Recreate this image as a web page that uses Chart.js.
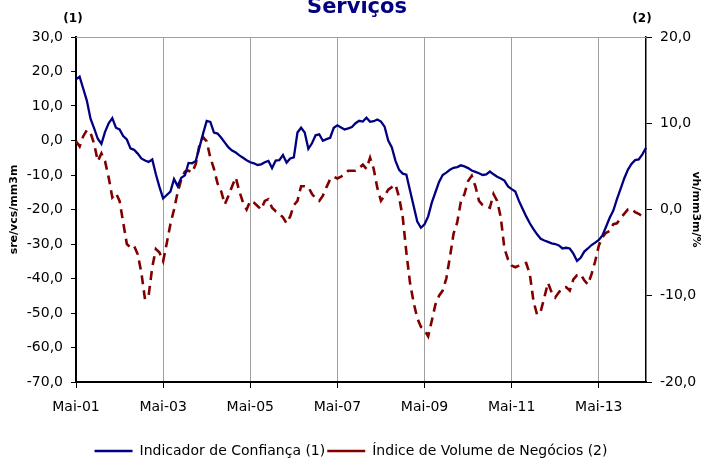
<!DOCTYPE html>
<html>
<head>
<meta charset="utf-8">
<script src="https://cdn.jsdelivr.net/npm/chart.js@4/dist/chart.umd.min.js"></script>
<style>
  html, body { margin: 0; padding: 0; background: #fff; }
  #wrap { width: 702px; height: 459px; }
</style>
</head>
<body>
<div id="wrap"><canvas id="myChart" width="702" height="459"></canvas></div>
<script>
// month names used for the category labels (series starts Mai-01)
const monthNames = ["Jan", "Fev", "Mar", "Abr", "Mai", "Jun", "Jul", "Ago", "Set", "Out", "Nov", "Dez"];
const startYear = 2001;
const startMonth = 4; // Mai

// Indicador de Confiança (1) - left axis
const confianca = [
  17.7, 18.5, 15.0, 11.5, 6.3, 3.5, 0.5, -1.0, 2.5, 5.0, 6.5, 3.7,
  3.2, 1.3, 0.3, -2.3, -2.7, -3.8, -5.2, -5.8, -6.2, -5.5, -9.8, -13.5,
  -16.8, -15.8, -14.8, -11.2, -13.2, -10.8, -10.1, -6.5, -6.6, -5.9, -2.0, 2.0,
  5.7, 5.4, 2.3, 2.0, 0.8, -0.6, -2.0, -2.9, -3.5, -4.3, -5.0, -5.7,
  -6.3, -6.6, -7.1, -6.9, -6.3, -5.9, -8.0, -5.8, -5.7, -4.2, -6.4, -5.2,
  -4.9, 2.3, 3.7, 2.3, -2.4, -0.8, 1.5, 1.8, -0.1, 0.4, 0.8, 3.7,
  4.4, 3.8, 3.2, 3.5, 3.9, 5.0, 5.7, 5.5, 6.6, 5.4, 5.6, 6.1,
  5.5, 4.0, 0.0, -2.0, -5.9, -8.5, -9.6, -9.9, -14.5, -19.0, -23.5, -25.3,
  -24.3, -22.0, -18.0, -15.0, -12.0, -10.0, -9.3, -8.5, -7.9, -7.7, -7.2, -7.5,
  -8.0, -8.7, -9.1, -9.5, -10.0, -9.8, -9.0, -9.8, -10.5, -11.0, -11.6, -13.3,
  -14.1, -14.8, -17.5, -19.8, -22.0, -24.0, -25.7, -27.2, -28.5, -29.0, -29.4, -29.8,
  -30.0, -30.4, -31.3, -31.1, -31.3, -32.8, -34.9, -34.0, -32.2, -31.3, -30.3, -29.6,
  -28.8, -27.5, -25.0, -22.4, -20.3, -17.0, -14.0, -11.0, -8.5, -6.8, -5.7, -5.5,
  -4.0, -2.1
];

// Índice de Volume de Negócios (2) - right axis
const volume = [
  7.9, 7.3, 8.5, 9.2, 8.9, 7.6, 5.6, 6.5, 5.6, 3.7, 1.4, 1.9,
  1.0, -1.5, -4.0, -4.4, -4.2, -5.2, -7.3, -10.4, -10.0, -6.7, -4.6, -5.0,
  -6.0, -3.9, -1.7, 0.0, 2.0, 3.5, 4.4, 4.5, 4.3, 5.3, 7.5, 8.4,
  7.9, 6.0, 4.7, 3.0, 2.1, 0.6, 1.6, 2.7, 3.7, 2.1, 0.8, 0.0,
  1.0, 0.8, 0.4, 0.0, 1.0, 1.2, 0.2, -0.2, -0.5, -0.9, -1.6, -0.8,
  0.5, 1.0, 2.7, 2.7, 2.6, 1.8, 1.3, 1.0, 1.6, 2.6, 3.5, 3.8,
  3.6, 3.8, 4.1, 4.5, 4.5, 4.5, 4.8, 5.2, 4.7, 6.0, 4.7, 2.5,
  1.0, 1.6, 2.3, 2.6, 2.9, 1.4, -0.9, -5.0, -8.5, -10.8, -12.6, -13.6,
  -14.0, -14.7, -12.9, -11.0, -10.0, -9.4, -8.0, -5.5, -2.8, -1.5, 0.9, 1.8,
  3.3, 3.9, 2.7, 1.0, 0.5, 0.4, 0.2, 1.8, 1.0, -0.9, -4.5, -5.8,
  -6.5, -6.7, -6.5, -6.3, -6.2, -7.5, -10.6, -12.2, -11.8, -10.2, -8.5, -9.6,
  -10.2, -9.6, -9.1, -9.0, -9.4, -8.1, -7.6, -7.5, -8.2, -8.7, -7.5, -6.0,
  -4.2, -3.2, -2.7, -2.5, -1.7, -1.6, -1.0, -0.5, 0.0, 0.1, -0.3, -0.5,
  -0.8, null
];

const labels = [];
for (let i = 0; i < confianca.length; i++) {
  const m = (startMonth + i) % 12;
  const y = startYear + Math.floor((startMonth + i) / 12);
  labels.push(monthNames[m] + "-" + String(y).slice(2));
}

const FONT = "'DejaVu Sans', Verdana, sans-serif";
const fmt = (v) => v.toFixed(1).replace(".", ",");

// title, (1)/(2) markers and the thin top border
const extras = {
  id: "extras",
  afterDraw(chart) {
    const ctx = chart.ctx;
    const a = chart.chartArea;
    ctx.save();
    ctx.strokeStyle = "#a0a0a0";
    ctx.lineWidth = 1;
    ctx.beginPath();
    ctx.moveTo(a.left, a.top + 0.5);
    ctx.lineTo(a.right, a.top + 0.5);
    ctx.stroke();

    ctx.fillStyle = "#000080";
    ctx.font = "bold 21px " + FONT;
    ctx.textAlign = "center";
    ctx.textBaseline = "alphabetic";
    ctx.fillText("Serviços", 357, 13);

    ctx.fillStyle = "#000";
    ctx.font = "bold 12px " + FONT;
    ctx.fillText("(1)", a.left - 3, 22);
    ctx.fillText("(2)", a.right - 4, 22);
    ctx.restore();
  }
};

const ctx = document.getElementById("myChart");

new Chart(ctx, {
  type: "line",
  data: {
    labels: labels,
    datasets: [
      {
        label: "Indicador de Confiança (1)",
        data: confianca,
        yAxisID: "y",
        borderColor: "#000080",
        backgroundColor: "#000080",
        borderWidth: 2.3,
        pointRadius: 0,
        tension: 0,
        pointStyle: "line"
      },
      {
        label: "Índice de Volume de Negócios (2)",
        data: volume,
        yAxisID: "y2",
        borderColor: "#800000",
        backgroundColor: "#800000",
        borderWidth: 2.6,
        borderDash: [9, 6],
        pointRadius: 0,
        tension: 0,
        pointStyle: "line"
      }
    ]
  },
  options: {
    responsive: false,
    animation: false,
    // negative bottom padding pushes the legend row down to the canvas edge
    layout: { padding: { top: 37, left: 0, right: 0, bottom: -9 } },
    plugins: {
      legend: {
        position: "bottom",
        labels: {
          usePointStyle: true,
          pointStyleWidth: 38,
          boxHeight: 14,
          padding: 2,
          color: "#000",
          font: { family: FONT, size: 14 }
        }
      },
      tooltip: { enabled: false }
    },
    scales: {
      x: {
        offset: false,
        afterFit: (s) => { s.height = 60; },
        grid: {
          color: (c) => (c.index % 24 === 0 && c.index > 0 ? "#a0a0a0" : "transparent"),
          tickColor: (c) => (c.index % 24 === 0 ? "#000" : "transparent"),
          tickLength: 6
        },
        border: { color: "#000", width: 2 },
        ticks: {
          autoSkip: false,
          maxRotation: 0,
          padding: 11,
          color: "#000",
          font: { family: FONT, size: 14 },
          callback: function (v, i) { return i % 24 === 0 ? labels[i] : ""; }
        }
      },
      y: {
        position: "left",
        min: -70,
        max: 30,
        afterFit: (s) => { s.width = 76; },
        grid: { drawOnChartArea: false, tickLength: 5, tickColor: "#000" },
        border: { color: "#000", width: 2 },
        ticks: {
          stepSize: 10,
          padding: 8,
          color: "#000",
          font: { family: FONT, size: 14 },
          callback: (v) => fmt(v)
        },
        title: {
          display: true,
          text: "sre/vcs/mm3m",
          color: "#000",
          font: { family: FONT, size: 11, weight: "bold" },
          padding: { top: 8, bottom: 2 }
        }
      },
      y2: {
        position: "right",
        min: -20,
        max: 20,
        afterFit: (s) => { s.width = 56; },
        grid: { drawOnChartArea: false, tickLength: 6, tickColor: "#000" },
        border: { color: "#000", width: 1.5 },
        ticks: {
          stepSize: 10,
          padding: 8,
          color: "#000",
          font: { family: FONT, size: 14 },
          callback: (v) => fmt(v)
        },
        title: {
          display: true,
          text: "vh/mm3m/%",
          color: "#000",
          font: { family: FONT, size: 11, weight: "bold" },
          padding: { top: 0, bottom: 0 }
        }
      }
    }
  },
  plugins: [extras]
});
</script>
</body>
</html>
